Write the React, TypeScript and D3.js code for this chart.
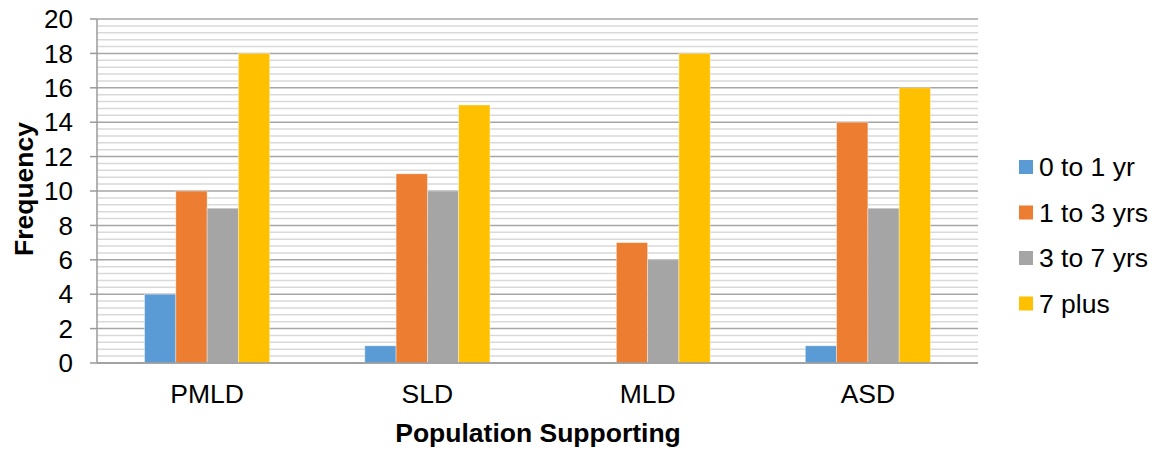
import * as d3 from "d3";

const categories = ["PMLD", "SLD", "MLD", "ASD"];
const seriesNames = ["0 to 1 yr", "1 to 3 yrs", "3 to 7 yrs", "7 plus"];
const seriesColors = ["#5B9BD5", "#ED7D31", "#A5A5A5", "#FFC000"];
// values per series, in category order
const zeroToOne = [4, 1, 0, 1];
const oneToThree = [10, 11, 7, 14];
const threeToSeven = [9, 10, 6, 9];
const sevenPlus = [18, 15, 18, 16];
const yTicks = [0, 2, 4, 6, 8, 10, 12, 14, 16, 18, 20];

const seriesValues = [zeroToOne, oneToThree, threeToSeven, sevenPlus];

export default function App() {
  const width = 1158;
  const height = 451;
  const left = 97;
  const right = 978;
  const top = 19;
  const bottom = 363;
  const font = "Liberation Sans, Arial, sans-serif";

  const x = d3.scaleBand().domain(categories).range([left, right]).padding(0);
  const x1 = d3
    .scaleBand()
    .domain(seriesNames)
    .range([0, x.bandwidth()])
    .paddingInner(0)
    .paddingOuter(1.52);
  const y = d3.scaleLinear().domain([0, 20]).range([bottom, top]);

  const minorTicks = d3.range(0, 20.001, 0.4).filter((v) => Math.abs(v / 2 - Math.round(v / 2)) > 0.01);

  return (
    <svg width={width} height={height} style={{ position: "absolute", left: 0, top: 0 }}>
      <rect width={width} height={height} fill="#fff" />
      <g>
        {minorTicks.map((t) => (
          <line key={"m" + t} x1={left} x2={right} y1={y(t)} y2={y(t)} stroke="#d9d9d9" strokeWidth={1.5} />
        ))}
        {yTicks.map((t) => (
          <line key={"g" + t} x1={left} x2={right} y1={y(t)} y2={y(t)} stroke="#a6a6a6" strokeWidth={1.5} />
        ))}
      </g>
      <g>
        {seriesNames.map((s, si) =>
          categories.map((c, ci) => {
            const v = seriesValues[si][ci];
            if (v === 0) return null;
            return (
              <rect
                key={s + c}
                x={(x(c) ?? 0) + (x1(s) ?? 0)}
                y={y(v)}
                width={x1.bandwidth()}
                height={y(0) - y(v)}
                fill={seriesColors[si]}
                stroke="#fff"
                strokeOpacity={0.5}
                strokeWidth={0.75}
              />
            );
          })
        )}
      </g>
      <line x1={left} x2={left} y1={top} y2={bottom} stroke="#9a9a9a" strokeWidth={1.5} />
      <line x1={left} x2={right} y1={bottom} y2={bottom} stroke="#9a9a9a" strokeWidth={1.5} />
      <g fontFamily={font} fontSize={26} fill="#000">
        {yTicks.map((t) => (
          <g key={"t" + t}>
            <line x1={left - 7} x2={left} y1={y(t)} y2={y(t)} stroke="#9a9a9a" strokeWidth={1.5} />
            <text x={73} y={y(t)} dy="0.35em" textAnchor="end">
              {t}
            </text>
          </g>
        ))}
        {categories.map((c) => (
          <text key={c} x={(x(c) ?? 0) + x.bandwidth() / 2} y={403} textAnchor="middle" fontSize={26.5}>
            {c}
          </text>
        ))}
      </g>
      <text
        x={538}
        y={442}
        textAnchor="middle"
        fontFamily={font}
        fontSize={26.5}
        fontWeight="bold"
      >
        Population Supporting
      </text>
      <text
        transform={`translate(33,${(top + bottom) / 2 - 2}) rotate(-90)`}
        textAnchor="middle"
        fontFamily={font}
        fontSize={26.5}
        fontWeight="bold"
      >
        Frequency
      </text>
      <g fontFamily={font} fontSize={26.5}>
        {seriesNames.map((s, i) => {
          const cy = 167 + i * 45.5;
          return (
            <g key={s}>
              <rect x={1019} y={cy - 7} width={14} height={14} fill={seriesColors[i]} />
              <text x={1039} y={cy} dy="0.35em">
                {s}
              </text>
            </g>
          );
        })}
      </g>
    </svg>
  );
}
